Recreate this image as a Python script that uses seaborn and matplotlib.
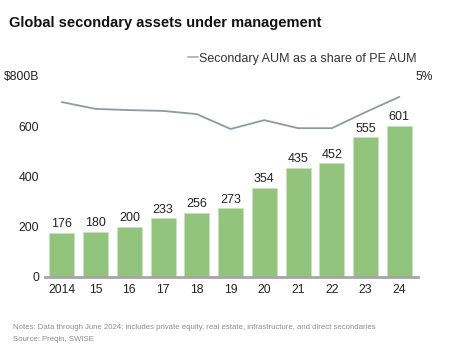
import numpy as np
import pandas as pd
import matplotlib
matplotlib.use("Agg")
import matplotlib.pyplot as plt
import seaborn as sns

years = ["2014", "15", "16", "17", "18", "19", "20", "21", "22", "23", "24"]
aum = [176, 180, 200, 233, 256, 273, 354, 435, 452, 555, 601]
share_pct = [4.35, 4.18, 4.15, 4.13, 4.05, 3.68, 3.9, 3.7, 3.7, 4.1, 4.48]

sns.set_style("white")
plt.rcParams["font.family"] = ["Liberation Sans", "DejaVu Sans"]

df = pd.DataFrame({"year": years, "aum": aum, "share": share_pct})

fig = plt.figure(figsize=(4.68, 3.5), dpi=100)
ax = fig.add_axes([0.096, 0.209, 0.797, 0.574])

sns.barplot(data=df, x="year", y="aum", color="#93c47d", width=0.74,
            edgecolor="#c9e3bd", linewidth=0.6, saturation=1, ax=ax)
ax.bar_label(ax.containers[0], fmt="%d", padding=2, fontsize=9, color="#222222")

ax.set_ylim(0, 800)
ax.set_xlim(-0.5, 10.55)
ax.set_yticks([0, 200, 400, 600, 800])
ax.set_yticklabels(["0", "200", "400", "600", "$800B"])
ax.set_xlabel("")
ax.set_ylabel("")
ax.tick_params(axis="both", length=0, labelsize=8.7, colors="#222222")
ax.tick_params(axis="y", pad=4)
ax.tick_params(axis="x", pad=5)
for s in ["top", "right", "left"]:
    ax.spines[s].set_visible(False)
ax.spines["bottom"].set_color("#a6a6a6")
ax.spines["bottom"].set_linewidth(2)

ax2 = ax.twinx()
sns.lineplot(x=np.arange(len(years)), y=df["share"], color="#8a9ba6", linewidth=1.3,
             ax=ax2, label="Secondary AUM as a share of PE AUM")
ax2.set_ylim(0, 5)
ax2.set_yticks([5])
ax2.set_yticklabels(["5%"])
ax2.set_ylabel("")
ax2.tick_params(axis="y", length=0, labelsize=8.7, colors="#222222", pad=-2)
for s in ["top", "right", "left", "bottom"]:
    ax2.spines[s].set_visible(False)
leg = ax2.legend(loc="center", bbox_to_anchor=(0.69, 1.085), frameon=False, fontsize=9,
                 handlelength=0.8, handletextpad=0.1, labelcolor="#333333")
leg.get_lines()[0].set_color("#a9b4bb")

fig.text(0.019, 0.935, "Global secondary assets under management", fontsize=10.5,
         fontweight="bold", color="#111111", va="center")
fig.text(0.027, 0.064, "Notes: Data through June 2024; includes private equity, real estate, "
         "infrastructure, and direct secondaries", fontsize=5.6, color="#8c8c8c", va="center")
fig.text(0.027, 0.03, "Source: Preqin, SWISE", fontsize=5.6, color="#8c8c8c", va="center")

fig.savefig("out.png", dpi=100)
